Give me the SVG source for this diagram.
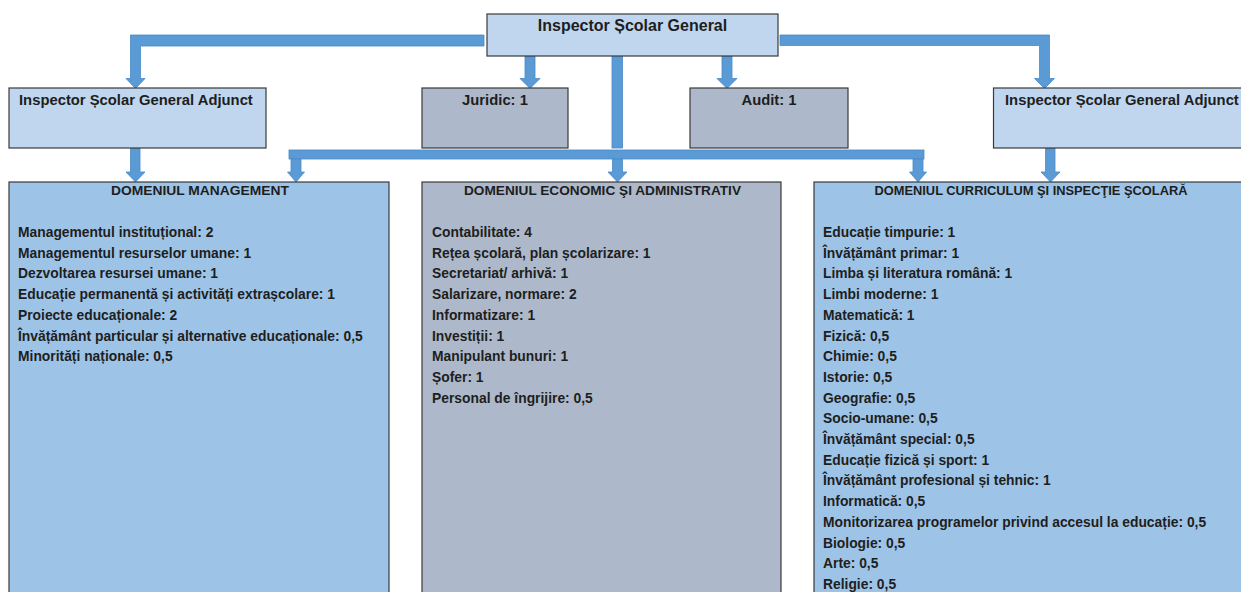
<svg xmlns="http://www.w3.org/2000/svg" width="1241" height="592" viewBox="0 0 1241 592">
<style>
.bx{stroke:#3a3a3a;stroke-width:1.2}
.lt{fill:#bfd6ee}
.bl{fill:#9dc3e6}
.gr{fill:#adb9ca}
.ar{fill:#5b9bd5;stroke:#4a88c6;stroke-width:0.8}
text{font-family:"Liberation Sans",Arial,sans-serif;font-weight:bold;fill:#1e1e1e}
.t1{font-size:16px}
.t2{font-size:14.8px}
.hd{font-size:13.4px}
.bd{font-size:13.85px}
</style>
<rect width="1241" height="592" fill="#ffffff"/>
<g id="connectors">
  <!-- left elbow to left adjunct -->
  <path class="ar" d="M484,35 H130.5 V78.5 H126 L135.5,88.5 L145,78.5 H140.5 V46 H484 Z"/>
  <!-- right elbow to right adjunct -->
  <path class="ar" d="M780,35 H1049.5 V78.5 H1054.5 L1044.5,88.5 L1034.5,78.5 H1039.5 V45.5 H780 Z"/>
  <!-- juridic -->
  <path class="ar" d="M525,56 H535 V78.5 H540 L530,88.5 L520,78.5 H525 Z"/>
  <!-- audit -->
  <path class="ar" d="M722,56 H732 V78.5 H737 L727,88.5 L717,78.5 H722 Z"/>
  <!-- central vertical -->
  <rect class="ar" x="612" y="54" width="10.5" height="94"/>
  <!-- horizontal distribution bar -->
  <rect class="ar" x="289" y="150" width="635" height="9"/>
  <!-- down arrows to domains -->
  <path class="ar" d="M291,159 H301 V172 H304.5 L296,182 L287.5,172 H291 Z"/>
  <path class="ar" d="M612.5,159 H622.5 V172 H627 L617.5,182 L608,172 H612.5 Z"/>
  <path class="ar" d="M913,159 H923 V172 H926.5 L918,182 L909.5,172 H913 Z"/>
  <!-- adjunct to domains -->
  <path class="ar" d="M130.5,148 H140 V172 H145 L135.5,182 L126,172 H130.5 Z"/>
  <path class="ar" d="M1045.5,148 H1055 V172 H1060 L1050.5,182 L1041,172 H1045.5 Z"/>
</g>
<g id="inspector-general">
  <rect class="bx lt" x="487" y="14" width="291" height="42"/>
  <text class="t1" x="632.5" y="30.7" text-anchor="middle">Inspector Școlar General</text>
</g>
<g id="adjunct-left">
  <rect class="bx lt" x="9" y="88" width="257" height="60"/>
  <text class="t2" x="19" y="105">Inspector Școlar General Adjunct</text>
</g>
<g id="juridic">
  <rect class="bx gr" x="422" y="88" width="146" height="60"/>
  <text class="t2" x="495" y="105" text-anchor="middle">Juridic: 1</text>
</g>
<g id="audit">
  <rect class="bx gr" x="690" y="88" width="158" height="60"/>
  <text class="t2" x="769" y="105" text-anchor="middle">Audit: 1</text>
</g>
<g id="adjunct-right">
  <rect class="bx lt" x="993.5" y="88" width="260" height="60"/>
  <text class="t2" x="1005" y="105">Inspector Școlar General Adjunct</text>
</g>
<g id="domeniul-management">
  <rect class="bx bl" x="9" y="182" width="380" height="420"/>
  <text class="hd" x="200" y="195" text-anchor="middle" textLength="178" lengthAdjust="spacingAndGlyphs">DOMENIUL MANAGEMENT</text>
  <text class="bd">
    <tspan x="18" y="237">Managementul instituțional: 2</tspan>
    <tspan x="18" y="257.7">Managementul resurselor umane: 1</tspan>
    <tspan x="18" y="278.4">Dezvoltarea resursei umane: 1</tspan>
    <tspan x="18" y="299.1">Educație permanentă și activități extrașcolare: 1</tspan>
    <tspan x="18" y="319.8">Proiecte educaționale: 2</tspan>
    <tspan x="18" y="340.5">Învățământ particular și alternative educaționale: 0,5</tspan>
    <tspan x="18" y="361.2">Minorități naționale: 0,5</tspan>
  </text>
</g>
<g id="domeniul-economic">
  <rect class="bx gr" x="422" y="182" width="359" height="420"/>
  <text class="hd" x="602.5" y="195" text-anchor="middle" textLength="277" lengthAdjust="spacingAndGlyphs">DOMENIUL ECONOMIC ŞI ADMINISTRATIV</text>
  <text class="bd">
    <tspan x="432" y="237">Contabilitate: 4</tspan>
    <tspan x="432" y="257.7">Rețea școlară, plan școlarizare: 1</tspan>
    <tspan x="432" y="278.4">Secretariat/ arhivă: 1</tspan>
    <tspan x="432" y="299.1">Salarizare, normare: 2</tspan>
    <tspan x="432" y="319.8">Informatizare: 1</tspan>
    <tspan x="432" y="340.5">Investiții: 1</tspan>
    <tspan x="432" y="361.2">Manipulant bunuri: 1</tspan>
    <tspan x="432" y="381.9">Șofer: 1</tspan>
    <tspan x="432" y="402.6">Personal de îngrijire: 0,5</tspan>
  </text>
</g>
<g id="domeniul-curriculum">
  <rect class="bx bl" x="814" y="182" width="440" height="420"/>
  <text class="hd" x="1031" y="195" text-anchor="middle" textLength="313" lengthAdjust="spacingAndGlyphs">DOMENIUL CURRICULUM ŞI INSPECŢIE ŞCOLARĂ</text>
  <text class="bd">
    <tspan x="823" y="237">Educație timpurie: 1</tspan>
    <tspan x="823" y="257.7">Învățământ primar: 1</tspan>
    <tspan x="823" y="278.4">Limba și literatura română: 1</tspan>
    <tspan x="823" y="299.1">Limbi moderne: 1</tspan>
    <tspan x="823" y="319.8">Matematică: 1</tspan>
    <tspan x="823" y="340.5">Fizică: 0,5</tspan>
    <tspan x="823" y="361.2">Chimie: 0,5</tspan>
    <tspan x="823" y="381.9">Istorie: 0,5</tspan>
    <tspan x="823" y="402.6">Geografie: 0,5</tspan>
    <tspan x="823" y="423.3">Socio-umane: 0,5</tspan>
    <tspan x="823" y="444">Învățământ special: 0,5</tspan>
    <tspan x="823" y="464.7">Educație fizică și sport: 1</tspan>
    <tspan x="823" y="485.4">Învățământ profesional și tehnic: 1</tspan>
    <tspan x="823" y="506.1">Informatică: 0,5</tspan>
    <tspan x="823" y="526.8">Monitorizarea programelor privind accesul la educație: 0,5</tspan>
    <tspan x="823" y="547.5">Biologie: 0,5</tspan>
    <tspan x="823" y="568.2">Arte: 0,5</tspan>
    <tspan x="823" y="588.9">Religie: 0,5</tspan>
  </text>
</g>
</svg>
